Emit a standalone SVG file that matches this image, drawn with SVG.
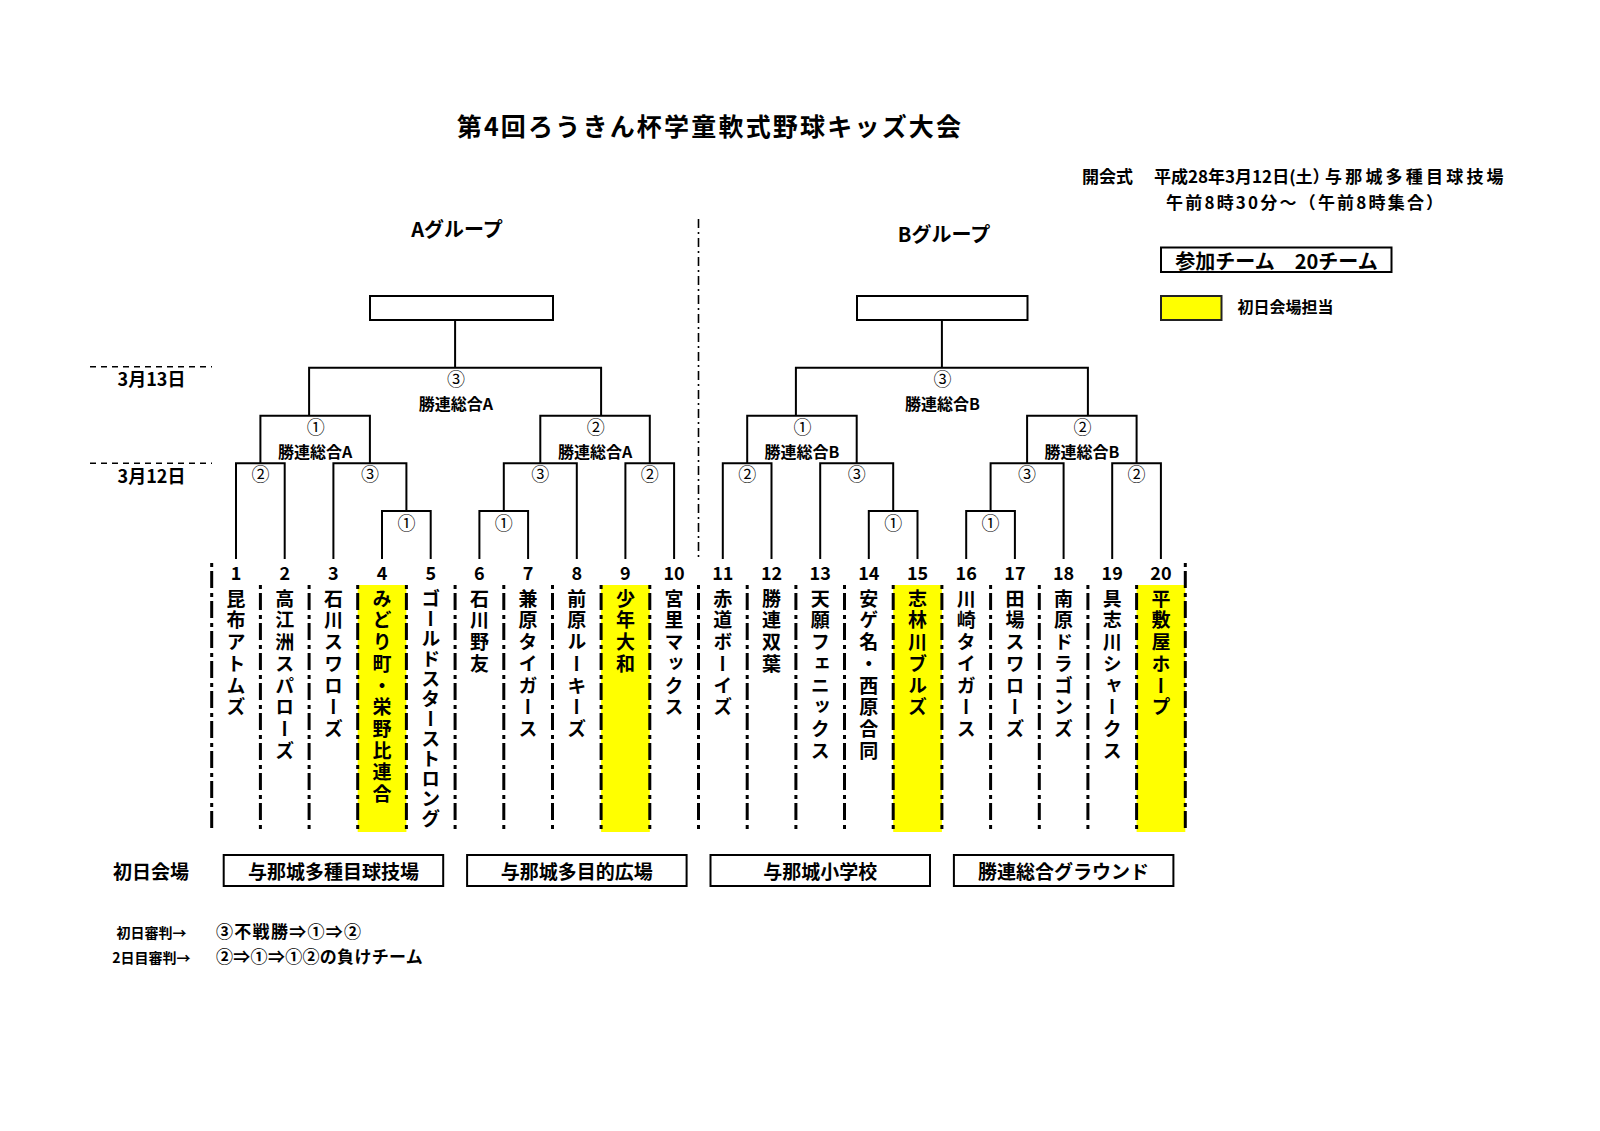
<svg xmlns="http://www.w3.org/2000/svg" width="1600" height="1131" viewBox="0 0 1600 1131">
<style>
text { font-family: "Noto Sans CJK JP", "Noto Sans CJK SC", sans-serif; font-weight: 700; fill: #000; }
.mid { text-anchor: middle; dominant-baseline: central; }
.title { font-size: 25px; letter-spacing: 2.2px; }
.hdr { font-size: 17px; }
.grp { font-size: 20px; }
.circ { font-size: 18px; font-weight: 400; }
.lab { font-size: 16px; }
.num { font-size: 18px; }
.date { font-size: 18px; }
.name { font-size: 19px; letter-spacing: 2.7px; writing-mode: vertical-rl; }
.small { font-size: 14px; }
.note { font-size: 17px; dominant-baseline: central; }
.venue { font-size: 19px; }
.line { fill: none; stroke: #000; stroke-width: 2; }
.box { fill: #fff; stroke: #000; stroke-width: 2; }
.sep { fill: none; stroke: #000; stroke-width: 3; stroke-dasharray: 4 4 17 5; }
.divider { fill: none; stroke: #000; stroke-width: 1.6; stroke-dasharray: 9 4 2 4; }
.dateline { fill: none; stroke: #000; stroke-width: 1.6; stroke-dasharray: 6 5; }
.hl { fill: #ffff00; }
</style>

<!-- title and header -->
<g id="title">
  <text class="title mid" x="710" y="124.5">第4回ろうきん杯学童軟式野球キッズ大会</text>
</g>
<g id="opening">
  <text class="hdr" x="1082" y="175.5" dominant-baseline="central">開会式</text>
  <text class="hdr" x="1154" y="175.5" dominant-baseline="central">平成28年3月12日(土）</text>
  <text class="hdr" x="1325" y="175.5" dominant-baseline="central" letter-spacing="3.2">与那城多種目球技場</text>
  <text class="hdr" x="1166" y="201" dominant-baseline="central" letter-spacing="2.2">午前8時30分～（午前8時集合）</text>
</g>
<g id="group-a-label"><text class="grp mid" x="457" y="228.5">Aグループ</text></g>
<g id="group-b-label"><text class="grp mid" x="944" y="233">Bグループ</text></g>

<g id="legend-teams">
  <rect class="box" x="1161" y="247.5" width="230.5" height="24.5"/>
  <text class="grp mid" x="1276.5" y="260">参加チーム　20チーム</text>
</g>
<g id="legend-host">
  <rect x="1161" y="296" width="60.5" height="24" fill="#ffff00" stroke="#222" stroke-width="2"/>
  <text class="mid" x="1285.5" y="305.5" font-size="16">初日会場担当</text>
</g>

<!-- date markers -->
<g id="date-13">
  <line class="dateline" x1="90" y1="366.7" x2="212" y2="366.7"/>
  <text class="date mid" x="151.5" y="378">3月13日</text>
</g>
<g id="date-12">
  <line class="dateline" x1="90" y1="463.3" x2="212" y2="463.3"/>
  <text class="date mid" x="151.5" y="475">3月12日</text>
</g>

<!-- highlight columns -->
<g id="highlights">
  <rect class="hl" x="357.7" y="585" width="48.7" height="247"/>
  <rect class="hl" x="601.1" y="585" width="48.7" height="247"/>
  <rect class="hl" x="893.2" y="585" width="48.7" height="247"/>
  <rect class="hl" x="1136.6" y="585" width="48.7" height="247"/>
</g>

<!-- column separators and center divider -->
<g id="separators">
  <line class="divider" x1="698.5" y1="219" x2="698.5" y2="557"/>
  <line class="sep" x1="211.7" y1="563" x2="211.7" y2="832"/>
  <line class="sep" x1="1185.3" y1="563" x2="1185.3" y2="832"/>
  <line class="sep" x1="260.4" y1="585" x2="260.4" y2="832"/>
  <line class="sep" x1="309.1" y1="585" x2="309.1" y2="832"/>
  <line class="sep" x1="357.7" y1="585" x2="357.7" y2="832"/>
  <line class="sep" x1="406.4" y1="585" x2="406.4" y2="832"/>
  <line class="sep" x1="455.1" y1="585" x2="455.1" y2="832"/>
  <line class="sep" x1="503.8" y1="585" x2="503.8" y2="832"/>
  <line class="sep" x1="552.5" y1="585" x2="552.5" y2="832"/>
  <line class="sep" x1="601.1" y1="585" x2="601.1" y2="832"/>
  <line class="sep" x1="649.8" y1="585" x2="649.8" y2="832"/>
  <line class="sep" x1="698.5" y1="585" x2="698.5" y2="832"/>
  <line class="sep" x1="747.2" y1="585" x2="747.2" y2="832"/>
  <line class="sep" x1="795.9" y1="585" x2="795.9" y2="832"/>
  <line class="sep" x1="844.5" y1="585" x2="844.5" y2="832"/>
  <line class="sep" x1="893.2" y1="585" x2="893.2" y2="832"/>
  <line class="sep" x1="941.9" y1="585" x2="941.9" y2="832"/>
  <line class="sep" x1="990.6" y1="585" x2="990.6" y2="832"/>
  <line class="sep" x1="1039.3" y1="585" x2="1039.3" y2="832"/>
  <line class="sep" x1="1087.9" y1="585" x2="1087.9" y2="832"/>
  <line class="sep" x1="1136.6" y1="585" x2="1136.6" y2="832"/>
</g>

<!-- final boxes -->
<g id="winner-a"><rect class="box" x="370" y="296" width="183" height="24"/></g>
<g id="winner-b"><rect class="box" x="857" y="296" width="170.5" height="24"/></g>

<!-- connectors -->
<g id="connectors">
  <!-- finals -->
  <path class="line" d="M455.1 320 V367.7 M309.1 415.7 V367.7 H601.1 V415.7"/>
  <path class="line" d="M941.9 320 V367.7 M795.9 415.7 V367.7 H1087.9 V415.7"/>
  <!-- semis -->
  <path class="line" d="M260.4 463.3 V415.7 H369.9 V463.3"/>
  <path class="line" d="M540.3 463.3 V415.7 H649.8 V463.3"/>
  <path class="line" d="M747.2 463.3 V415.7 H856.7 V463.3"/>
  <path class="line" d="M1027.1 463.3 V415.7 H1136.6 V463.3"/>
  <!-- round 2 -->
  <path class="line" d="M236 559 V463.3 H284.7 V559"/>
  <path class="line" d="M333.4 559 V463.3 H406.4 V511"/>
  <path class="line" d="M503.8 511 V463.3 H576.8 V559"/>
  <path class="line" d="M625.4 559 V463.3 H674.1 V559"/>
  <path class="line" d="M722.8 559 V463.3 H771.5 V559"/>
  <path class="line" d="M820.2 559 V463.3 H893.2 V511"/>
  <path class="line" d="M990.6 511 V463.3 H1063.6 V559"/>
  <path class="line" d="M1112.2 559 V463.3 H1160.9 V559"/>
  <!-- round 1 -->
  <path class="line" d="M382 559 V511 H430.7 V559"/>
  <path class="line" d="M479.4 559 V511 H528.1 V559"/>
  <path class="line" d="M868.8 559 V511 H917.5 V559"/>
  <path class="line" d="M966.2 559 V511 H1014.9 V559"/>
</g>

<!-- match labels -->
<g id="match-labels">
  <text class="circ mid" x="456" y="377.7">③</text>
  <text class="lab mid" x="456" y="403">勝連総合A</text>
  <text class="circ mid" x="942.5" y="377.7">③</text>
  <text class="lab mid" x="942.5" y="403">勝連総合B</text>

  <text class="circ mid" x="315.8" y="425.7">①</text>
  <text class="lab mid" x="315.2" y="450.5">勝連総合A</text>
  <text class="circ mid" x="595.8" y="425.7">②</text>
  <text class="lab mid" x="595.1" y="450.5">勝連総合A</text>
  <text class="circ mid" x="802.5" y="425.7">①</text>
  <text class="lab mid" x="802" y="450.5">勝連総合B</text>
  <text class="circ mid" x="1082.5" y="425.7">②</text>
  <text class="lab mid" x="1081.9" y="450.5">勝連総合B</text>

  <text class="circ mid" x="260.4" y="473">②</text>
  <text class="circ mid" x="369.9" y="473">③</text>
  <text class="circ mid" x="540.3" y="473">③</text>
  <text class="circ mid" x="649.8" y="473">②</text>
  <text class="circ mid" x="747.2" y="473">②</text>
  <text class="circ mid" x="856.7" y="473">③</text>
  <text class="circ mid" x="1027.1" y="473">③</text>
  <text class="circ mid" x="1136.6" y="473">②</text>

  <text class="circ mid" x="406.4" y="521.7">①</text>
  <text class="circ mid" x="503.8" y="521.7">①</text>
  <text class="circ mid" x="893.2" y="521.7">①</text>
  <text class="circ mid" x="990.6" y="521.7">①</text>
</g>

<!-- teams -->
<g id="team-1"><text class="num mid" x="236" y="571.5">1</text><text class="name" x="236" y="589">昆布アトムズ</text></g>
<g id="team-2"><text class="num mid" x="284.7" y="571.5">2</text><text class="name" x="284.7" y="589">高江洲スパローズ</text></g>
<g id="team-3"><text class="num mid" x="333.4" y="571.5">3</text><text class="name" x="333.4" y="589">石川スワローズ</text></g>
<g id="team-4"><text class="num mid" x="382" y="571.5">4</text><text class="name" x="382" y="589">みどり町・栄野比連合</text></g>
<g id="team-5"><text class="num mid" x="430.7" y="571.5">5</text><text class="name" x="430.7" y="589" style="letter-spacing:1px">ゴールドスターストロング</text></g>
<g id="team-6"><text class="num mid" x="479.4" y="571.5">6</text><text class="name" x="479.4" y="589">石川野友</text></g>
<g id="team-7"><text class="num mid" x="528.1" y="571.5">7</text><text class="name" x="528.1" y="589">兼原タイガース</text></g>
<g id="team-8"><text class="num mid" x="576.8" y="571.5">8</text><text class="name" x="576.8" y="589">前原ルーキーズ</text></g>
<g id="team-9"><text class="num mid" x="625.4" y="571.5">9</text><text class="name" x="625.4" y="589">少年大和</text></g>
<g id="team-10"><text class="num mid" x="674.1" y="571.5">10</text><text class="name" x="674.1" y="589">宮里マックス</text></g>
<g id="team-11"><text class="num mid" x="722.8" y="571.5">11</text><text class="name" x="722.8" y="589">赤道ボーイズ</text></g>
<g id="team-12"><text class="num mid" x="771.5" y="571.5">12</text><text class="name" x="771.5" y="589">勝連双葉</text></g>
<g id="team-13"><text class="num mid" x="820.2" y="571.5">13</text><text class="name" x="820.2" y="589">天願フェニックス</text></g>
<g id="team-14"><text class="num mid" x="868.8" y="571.5">14</text><text class="name" x="868.8" y="589">安ゲ名・西原合同</text></g>
<g id="team-15"><text class="num mid" x="917.5" y="571.5">15</text><text class="name" x="917.5" y="589">志林川ブルズ</text></g>
<g id="team-16"><text class="num mid" x="966.2" y="571.5">16</text><text class="name" x="966.2" y="589">川崎タイガース</text></g>
<g id="team-17"><text class="num mid" x="1014.9" y="571.5">17</text><text class="name" x="1014.9" y="589">田場スワローズ</text></g>
<g id="team-18"><text class="num mid" x="1063.6" y="571.5">18</text><text class="name" x="1063.6" y="589">南原ドラゴンズ</text></g>
<g id="team-19"><text class="num mid" x="1112.2" y="571.5">19</text><text class="name" x="1112.2" y="589">具志川シャークス</text></g>
<g id="team-20"><text class="num mid" x="1160.9" y="571.5">20</text><text class="name" x="1160.9" y="589">平敷屋ホープ</text></g>

<!-- venues -->
<g id="venue-label"><text class="venue mid" x="151" y="870">初日会場</text></g>
<g id="venue-1"><rect class="box" x="223.7" y="855" width="219.5" height="31"/><text class="venue mid" x="333.4" y="870.5">与那城多種目球技場</text></g>
<g id="venue-2"><rect class="box" x="467.1" y="855" width="219.5" height="31"/><text class="venue mid" x="576.8" y="870.5">与那城多目的広場</text></g>
<g id="venue-3"><rect class="box" x="710.5" y="855" width="219.5" height="31"/><text class="venue mid" x="820.2" y="870.5">与那城小学校</text></g>
<g id="venue-4"><rect class="box" x="953.9" y="855" width="219.5" height="31"/><text class="venue mid" x="1063.6" y="870.5">勝連総合グラウンド</text></g>

<!-- umpire notes -->
<g id="notes">
  <text class="small mid" x="151.5" y="932">初日審判→</text>
  <text class="note" x="216" y="930" letter-spacing="1.3">③不戦勝⇒①⇒②</text>
  <text class="small mid" x="151.5" y="956.5">2日目審判→</text>
  <text class="note" x="216" y="955" letter-spacing="0.3">②⇒①⇒①②の負けチーム</text>
</g>
</svg>
